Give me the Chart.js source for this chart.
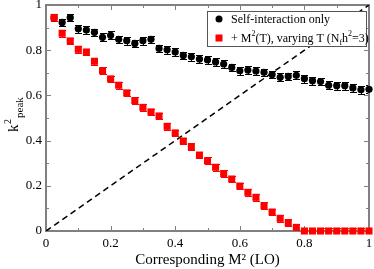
<!DOCTYPE html>
<html>
<head>
<meta charset="utf-8">
<script src="https://cdn.jsdelivr.net/npm/chart.js@4/dist/chart.umd.min.js"></script>
<style>
html, body { margin: 0; padding: 0; background: #fff; }
#wrap { width: 374px; height: 269px; }
</style>
</head>
<body>
<div id="wrap"><canvas id="peakChart" width="374" height="269"></canvas></div>
<script>
// corresponding M^2 (LO) for each measurement
const m2Values = [0.025, 0.05, 0.075, 0.1, 0.125, 0.15, 0.175, 0.2, 0.225, 0.25,
                  0.275, 0.3, 0.325, 0.35, 0.375, 0.4, 0.425, 0.45, 0.475, 0.5,
                  0.525, 0.55, 0.575, 0.6, 0.625, 0.65, 0.675, 0.7, 0.725, 0.75,
                  0.775, 0.8, 0.825, 0.85, 0.875, 0.9, 0.925, 0.95, 0.975, 1.0];

const selfOnly = [0.944, 0.923, 0.944, 0.895, 0.889, 0.879, 0.857, 0.866, 0.848, 0.842,
                  0.830, 0.842, 0.848, 0.808, 0.802, 0.792, 0.777, 0.771, 0.761, 0.757,
                  0.748, 0.739, 0.724, 0.709, 0.712, 0.708, 0.702, 0.692, 0.680, 0.684,
                  0.689, 0.674, 0.665, 0.661, 0.645, 0.643, 0.643, 0.633, 0.625, 0.627];
const selfErr = [0.017, 0.017, 0.017, 0.017, 0.017, 0.017, 0.017, 0.017, 0.017, 0.017,
                 0.017, 0.017, 0.017, 0.017, 0.017, 0.017, 0.017, 0.017, 0.017, 0.017,
                 0.017, 0.017, 0.017, 0.017, 0.017, 0.017, 0.017, 0.017, 0.017, 0.017,
                 0.017, 0.017, 0.017, 0.017, 0.017, 0.017, 0.017, 0.017, 0.017, 0.017];

const withThermal = [0.945, 0.875, 0.841, 0.804, 0.792, 0.751, 0.709, 0.673, 0.645, 0.611,
                     0.577, 0.547, 0.527, 0.509, 0.463, 0.434, 0.398, 0.373, 0.336, 0.311,
                     0.282, 0.254, 0.230, 0.199, 0.171, 0.149, 0.112, 0.084, 0.056, 0.037,
                     0.016, 0, 0, 0, 0, 0, 0, 0, 0, 0];
const thermalErr = [0.015, 0.015, 0.015, 0.015, 0.015, 0.015, 0.015, 0.015, 0.015, 0.015,
                    0.015, 0.015, 0.015, 0.015, 0.015, 0.015, 0.015, 0.015, 0.015, 0.015,
                    0.015, 0.015, 0.015, 0.015, 0.015, 0.015, 0.015, 0.015, 0.015, 0.015,
                    0.015, 0.015, 0.015, 0.015, 0.015, 0.015, 0.015, 0.015, 0.015, 0.015];

const diagonalX = [0, 1];
const diagonalY = [0, 1];

const majorTicks = [0, 0.2, 0.4, 0.6, 0.8, 1];
const minorTicks = [0.1, 0.3, 0.5, 0.7, 0.9];

const serif = '"Liberation Serif", "DejaVu Serif", serif';
const axisGray = '#808080';

const toPoints = (xs, ys) => xs.map((x, i) => ({ x: x, y: ys[i] }));
const tickText = (v) => String(+v.toFixed(1));

// error bars, drawn under the markers
const errorBars = {
    id: 'errorBars',
    beforeDatasetsDraw(chart) {
        const { ctx, chartArea, scales } = chart;
        ctx.save();
        ctx.beginPath();
        ctx.rect(chartArea.left, chartArea.top, chartArea.width, chartArea.height);
        ctx.clip();
        [[selfOnly, selfErr, '#000000'], [withThermal, thermalErr, '#ff0000']].forEach(([vals, errs, col]) => {
            ctx.strokeStyle = col;
            ctx.lineWidth = 1;
            vals.forEach((v, i) => {
                const px = Math.round(scales.x.getPixelForValue(m2Values[i])) + 0.5;
                const top = Math.round(scales.y.getPixelForValue(v + errs[i])) + 0.5;
                const bot = Math.round(scales.y.getPixelForValue(v - errs[i])) + 0.5;
                ctx.beginPath();
                ctx.moveTo(px, top); ctx.lineTo(px, bot);
                ctx.moveTo(px - 3.5, top); ctx.lineTo(px + 3.5, top);
                ctx.moveTo(px - 3.5, bot); ctx.lineTo(px + 3.5, bot);
                ctx.stroke();
            });
        });
        ctx.restore();

        // frame with inward ticks on all four sides
        const { left, right, top, bottom } = chartArea;
        ctx.save();
        ctx.strokeStyle = axisGray;
        ctx.lineWidth = 2;
        ctx.strokeRect(left, top, right - left, bottom - top);
        ctx.lineWidth = 1;
        ctx.beginPath();
        const tick = (v, len) => {
            const px = Math.round(scales.x.getPixelForValue(v)) + 0.5;
            const py = Math.round(scales.y.getPixelForValue(v)) + 0.5;
            ctx.moveTo(px, bottom); ctx.lineTo(px, bottom - len);
            ctx.moveTo(px, top); ctx.lineTo(px, top + len);
            ctx.moveTo(left, py); ctx.lineTo(left + len, py);
            ctx.moveTo(right, py); ctx.lineTo(right - len, py);
        };
        majorTicks.forEach(v => tick(v, 5));
        minorTicks.forEach(v => tick(v, 3));
        ctx.stroke();
        ctx.restore();
    }
};

// y title with super/subscript, plus the boxed legend
const labelsAndLegend = {
    id: 'labelsAndLegend',
    afterDraw(chart) {
        const ctx = chart.ctx;
        const area = chart.chartArea;

        // y title: k^2_peak, rotated
        ctx.save();
        ctx.translate(18, (area.top + area.bottom) / 2 + 14);
        ctx.rotate(-Math.PI / 2);
        ctx.fillStyle = '#000';
        ctx.textBaseline = 'alphabetic';
        ctx.textAlign = 'left';
        ctx.font = '15px ' + serif;
        ctx.fillText('k', 0, 0);
        let w = ctx.measureText('k').width;
        ctx.font = '10px ' + serif;
        ctx.fillText('2', w + 0.5, -7);
        w += ctx.measureText('2').width + 1.5;
        ctx.font = '11px ' + serif;
        ctx.fillText('peak', w, 5);
        ctx.restore();

        // legend box
        const bx = 207, by = 11, bw = 159, bh = 35;
        ctx.save();
        ctx.fillStyle = '#ffffff';
        ctx.fillRect(bx, by, bw, bh);
        ctx.strokeStyle = '#555555';
        ctx.lineWidth = 1;
        ctx.strokeRect(bx + 0.5, by + 0.5, bw, bh);

        ctx.fillStyle = '#000000';
        ctx.beginPath();
        ctx.arc(219, 19, 3.5, 0, Math.PI * 2);
        ctx.fill();
        ctx.fillStyle = '#ff0000';
        ctx.fillRect(215.5, 34.5, 7, 7);

        ctx.fillStyle = '#000';
        ctx.textBaseline = 'alphabetic';
        ctx.textAlign = 'left';
        ctx.font = '12px ' + serif;
        ctx.fillText('Self-interaction only', 231, 23);

        let x = 231;
        const y = 42;
        const put = (txt, size, dy) => {
            ctx.font = size + 'px ' + serif;
            ctx.fillText(txt, x, y + dy);
            x += ctx.measureText(txt).width;
        };
        put('+ M', 12, 0);
        put('2', 8, -6);
        put('(T), varying T (N', 12, 0);
        put('f', 8, 3);
        put('h', 12, 0);
        put('2', 8, -6);
        put('=3)', 12, 0);
        ctx.restore();
    }
};

new Chart(document.getElementById('peakChart').getContext('2d'), {
    type: 'scatter',
    data: {
        datasets: [{
            label: 'Self-interaction only',
            data: toPoints(m2Values, selfOnly),
            pointStyle: 'circle',
            pointRadius: 3.6,
            backgroundColor: '#000000',
            borderColor: '#000000',
            borderWidth: 0,
            clip: false,
            order: 1
        }, {
            label: '+ M²(T), varying T (N_f h²=3)',
            data: toPoints(m2Values, withThermal),
            pointStyle: 'rect',
            pointRadius: 5,
            backgroundColor: '#ff0000',
            borderColor: '#ff0000',
            borderWidth: 0,
            clip: false,
            order: 0
        }, {
            type: 'line',
            label: 'diagonal',
            data: toPoints(diagonalX, diagonalY),
            borderColor: '#000000',
            borderWidth: 1.5,
            borderDash: [6, 4],
            pointRadius: 0,
            fill: false,
            order: 2
        }]
    },
    options: {
        responsive: false,
        animation: false,
        devicePixelRatio: 1,
        layout: { padding: { top: 4, right: 4, left: 0, bottom: 0 } },
        plugins: { legend: { display: false }, tooltip: { enabled: false } },
        scales: {
            x: {
                type: 'linear',
                min: 0, max: 1,
                afterFit: (s) => { s.height = 38; s.paddingLeft = 0; s.paddingRight = 0; },
                grid: { display: false, drawTicks: false },
                border: { display: false },
                ticks: { stepSize: 0.2, padding: 5, color: '#000', callback: tickText,
                         font: { family: serif, size: 13 } },
                title: { display: true, text: 'Corresponding M² (LO)', color: '#000',
                         padding: { top: 0, bottom: 0 }, font: { family: serif, size: 15 } }
            },
            y: {
                type: 'linear',
                min: 0, max: 1,
                afterFit: (s) => { s.width = 46; s.paddingTop = 0; s.paddingBottom = 0; },
                grid: { display: false, drawTicks: false },
                border: { display: false },
                ticks: { stepSize: 0.2, padding: 4, color: '#000', callback: tickText,
                         font: { family: serif, size: 13 } }
            }
        }
    },
    plugins: [errorBars, labelsAndLegend]
});
</script>
</body>
</html>
